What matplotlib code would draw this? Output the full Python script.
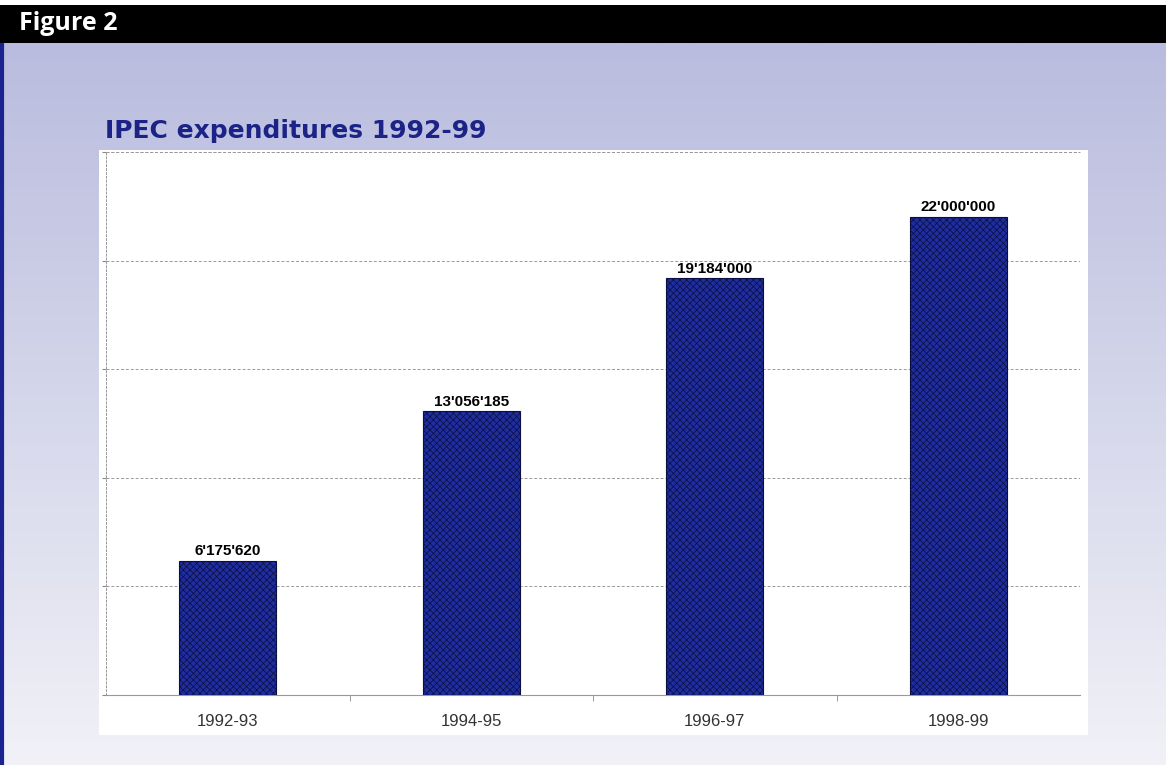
import numpy as np
import matplotlib
matplotlib.use("Agg")
import matplotlib.pyplot as plt
from matplotlib.colors import LinearSegmentedColormap

categories = ["1992-93", "1994-95", "1996-97", "1998-99"]
values = [6175620, 13056185, 19184000, 22000000]
value_labels = ["6'175'620", "13'056'185", "19'184'000", "22'000'000"]

W, H = 1166, 765
fig = plt.figure(figsize=(W / 100, H / 100), dpi=100)
fig.patch.set_facecolor("white")

def fx(x): return x / W
def fy(y): return 1 - y / H

# gradient background panel
bg = fig.add_axes([0, 0, 1, fy(43)])
bg.set_axis_off()
cmap = LinearSegmentedColormap.from_list("g", ["#b9bcde", "#f1f1f7"])
grad = np.linspace(0, 1, 256).reshape(-1, 1)
bg.imshow(grad, aspect="auto", cmap=cmap, extent=[0, 1, 0, 1], origin="upper")
bg.set_xlim(0, 1); bg.set_ylim(0, 1)
bg.axvline(0.0015, color="#1a2390", lw=3)

# black header
hdr = fig.add_axes([0, fy(43), 1, (43 - 5) / H])
hdr.set_axis_off()
hdr.add_patch(plt.Rectangle((0, 0), 1, 1, color="black", transform=hdr.transAxes))
fig.text(fx(19), fy(24), "Figure 2", color="white", fontsize=18, fontweight="bold",
         family="Open Sans", va="center", ha="left")

# title
fig.text(fx(105), fy(131), "IPEC expenditures 1992-99", color="#1c2386", fontsize=18,
         fontweight="bold", family="DejaVu Sans", va="center", ha="left")

# white chart area
wa = fig.add_axes([fx(99), fy(735), (1088 - 99) / W, (735 - 150) / H])
wa.set_axis_off()
wa.add_patch(plt.Rectangle((0, 0), 1, 1, color="white", transform=wa.transAxes))

ax = fig.add_axes([fx(106), fy(695), (1080 - 106) / W, (695 - 152) / H])
ax.set_facecolor("white")
x = np.arange(len(categories))
plt.rcParams["hatch.linewidth"] = 0.5
plt.rcParams["hatch.color"] = "#131d78"
bars = ax.bar(x, values, width=0.40, color="#1f2d9f", edgecolor="#0a0f40",
              linewidth=0.8, hatch="xxxxx", zorder=3)
for b in bars:
    b.set_edgecolor("#0a0f40")
ax.set_xlim(-0.5, len(categories) - 0.5)
ax.set_ylim(0, 25000000)
ax.set_yticks(np.arange(0, 25000001, 5000000))
ax.set_yticklabels([])
ax.tick_params(axis="y", length=3, color="#888888")
ax.grid(axis="y", color="#999999", linestyle=(0, (3, 2)), lw=0.7, zorder=0)
ax.set_xticks(x)
ax.set_xticklabels(categories, fontsize=12, color="#333333", family="Liberation Sans")
ax.set_xticks(np.arange(0.5, len(categories) - 0.5, 1), minor=True)
ax.tick_params(axis="x", which="major", length=0, pad=14)
ax.tick_params(axis="x", which="minor", length=4, color="#888888")
for s in ["top", "right"]:
    ax.spines[s].set_visible(False)
ax.spines["left"].set_color("#999999")
ax.spines["left"].set_linestyle((0, (2, 2)))
ax.spines["left"].set_linewidth(0.7)
ax.spines["bottom"].set_color("#999999")
ax.spines["bottom"].set_linewidth(0.8)
ax.axhline(25000000, color="#999999", linestyle=(0, (3, 2)), lw=0.7, clip_on=False)
for xi, v, lab in zip(x, values, value_labels):
    ax.annotate(lab, (xi, v), xytext=(0, 2), textcoords="offset points",
                ha="center", va="bottom", fontsize=11, fontweight="bold",
                family="Liberation Sans", color="black")

fig.savefig("out.png", dpi=100, facecolor=fig.get_facecolor())
